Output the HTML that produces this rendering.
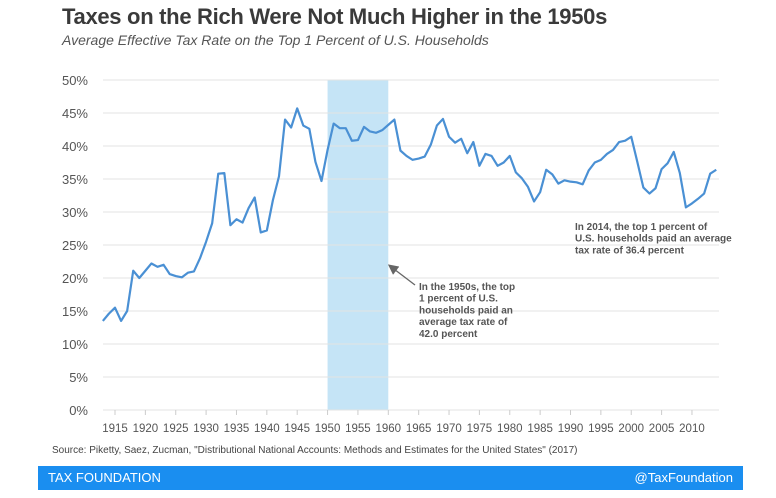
<!DOCTYPE html>
<html><head><meta charset="utf-8"><style>
body{margin:0;width:776px;height:498px;background:#fff;font-family:"Liberation Sans",sans-serif;overflow:hidden;position:relative}
#title{position:absolute;left:62px;top:4px;font-size:22px;font-weight:bold;color:#3a3a3a;letter-spacing:-0.3px}
#sub{position:absolute;left:62px;top:32px;font-size:14px;font-style:italic;color:#555}
#src{position:absolute;left:52px;top:445px;font-size:10px;color:#444}
#bar{position:absolute;left:38px;top:466px;width:705px;height:24px;background:#1a8ef0;color:#fff;font-size:13px}
#bar span{position:absolute;top:4px}
svg{position:absolute;left:0;top:0}
</style></head><body>
<div id="title">Taxes on the Rich Were Not Much Higher in the 1950s</div>
<div id="sub">Average Effective Tax Rate on the Top 1 Percent of U.S. Households</div>
<svg id="chart" width="776" height="498"></svg>
<div id="src">Source: Piketty, Saez, Zucman, "Distributional National Accounts: Methods and Estimates for the United States" (2017)</div>
<div id="bar"><span style="left:10px">TAX FOUNDATION</span><span style="right:10px">@TaxFoundation</span></div>
<script>
const years=[];for(let y=1913;y<=2014;y++)years.push(y);
const rates=[13.5,14.6,15.5,13.5,15.0,21.1,20.0,21.1,22.2,21.7,22.0,20.6,20.3,20.1,20.8,21.0,23.0,25.5,28.3,35.8,35.9,28.0,28.9,28.4,30.6,32.2,26.9,27.2,31.8,35.4,44.0,42.8,45.7,43.1,42.6,37.6,34.7,39.4,43.4,42.7,42.7,40.8,40.9,42.9,42.2,42.0,42.4,43.2,44.0,39.3,38.5,37.9,38.1,38.4,40.2,43.1,44.1,41.4,40.5,41.1,38.9,40.6,37.0,38.8,38.5,37.0,37.5,38.5,36.0,35.1,33.8,31.6,33.0,36.4,35.7,34.3,34.8,34.6,34.5,34.2,36.3,37.5,37.9,38.8,39.4,40.6,40.8,41.4,37.6,33.7,32.8,33.6,36.5,37.4,39.1,35.9,30.7,31.3,32.0,32.8,35.8,36.4];
const yTicks=[0,5,10,15,20,25,30,35,40,45,50];
const xTicks=[1915,1920,1925,1930,1935,1940,1945,1950,1955,1960,1965,1970,1975,1980,1985,1990,1995,2000,2005,2010];
const shade=[1950,1960];
const NS='http://www.w3.org/2000/svg',svg=document.getElementById('chart');
const x=v=>115+(v-1915)*(273.3/45), y=v=>410-v*6.6;
function mk(t,a,txt){const e=document.createElementNS(NS,t);for(const k in a)e.setAttribute(k,a[k]);if(txt!=null)e.textContent=txt;svg.appendChild(e);return e;}
const sh=mk('rect',{x:x(shade[0]),y:y(50),width:x(shade[1])-x(shade[0]),height:y(0)-y(50),fill:'#c5e4f6'});


yTicks.forEach(t=>{
 const l=mk('line',{x1:103,x2:719,y1:y(t),y2:y(t),stroke:'#e3e3e3','stroke-width':1});
 
 
 const tx=mk('text',{x:88,y:y(t)+5,'text-anchor':'end','font-size':13,fill:'#555'},t+'%');
 
 
});
xTicks.forEach(t=>{
 const l=mk('line',{x1:x(t),x2:x(t),y1:410,y2:415,stroke:'#ccc'});
 
 
 const tx=mk('text',{x:x(t),y:432,'text-anchor':'middle','font-size':11.5,fill:'#555'},t);
 
 
});
const p=mk('polyline',{points:years.map((yr,i)=>x(yr)+','+y(rates[i])).join(' '),fill:'none',stroke:'#4a90d4','stroke-width':2.2,'stroke-linejoin':'round'});


mk('defs',{}).innerHTML='<marker id="ah" markerWidth="8" markerHeight="8" refX="6" refY="4" orient="auto"><path d="M0,0L8,4L0,8z" fill="#666"/></marker>';
const ar=mk('line',{x1:415,y1:285,x2:390,y2:266,stroke:'#666','stroke-width':1.3,'marker-end':'url(#ah)'});


function note(lines,x0,y0,name){lines.forEach((s,i)=>{const t=mk('text',{x:x0,y:y0+i*11.7,'font-size':10,'font-weight':'bold',fill:'#555'},s);
 
 });}
note(['In the 1950s, the top','1 percent of U.S.','households paid an','average tax rate of','42.0 percent'],419,290,'annotation-1950s');
note(['In 2014, the top 1 percent of','U.S. households paid an average','tax rate of 36.4 percent'],575,230,'annotation-2014');
</script>
</body></html>
